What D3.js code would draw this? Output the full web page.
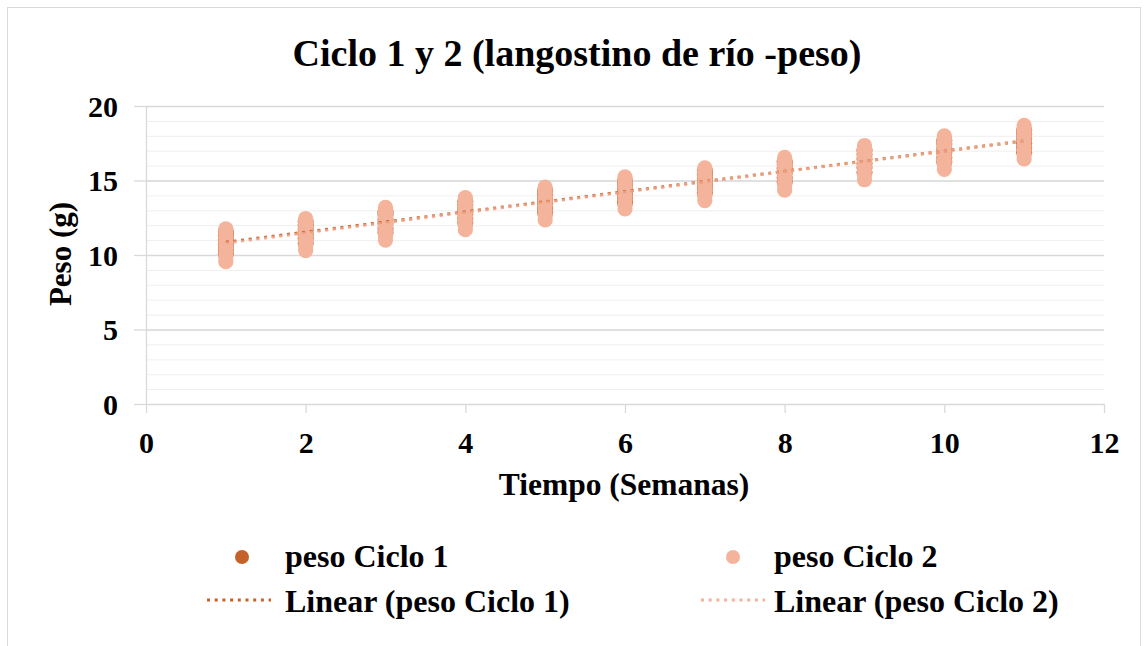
<!DOCTYPE html>
<html>
<head>
<meta charset="utf-8">
<title>Ciclo 1 y 2</title>
<script src="https://cdn.jsdelivr.net/npm/d3@7"></script>
<style>
  body { margin: 0; background: #fff; }
  text { font-family: "Liberation Serif", "Times New Roman", serif; font-weight: bold; fill: #000; }
</style>
</head>
<body>
<script>
// weeks and weight samples (g) per week
const weeks = [1, 2, 3, 4, 5, 6, 7, 8, 9, 10, 11];
const pesoCiclo1 = [
  [10.1, 10.4, 10.7, 11.0, 11.3, 11.55],
  [10.8, 11.1, 11.4, 11.7, 12.0, 12.25],
  [11.5, 11.8, 12.1, 12.4, 12.7, 12.9],
  [12.15, 12.45, 12.75, 13.05, 13.35, 13.6],
  [12.85, 13.15, 13.45, 13.75, 14.05, 14.3],
  [13.5, 13.8, 14.1, 14.4, 14.7, 14.95],
  [14.2, 14.5, 14.8, 15.1, 15.4, 15.65],
  [14.9, 15.2, 15.5, 15.8, 16.1, 16.3],
  [15.55, 15.85, 16.15, 16.45, 16.75, 17.0],
  [16.25, 16.55, 16.85, 17.15, 17.45, 17.7],
  [16.9, 17.2, 17.5, 17.8, 18.1, 18.35]
];
const pesoCiclo2 = [
  [9.55, 9.85, 10.15, 10.45, 10.7, 10.95, 11.15, 11.35, 11.55, 11.75],
  [10.3, 10.6, 10.9, 11.2, 11.45, 11.7, 11.9, 12.1, 12.3, 12.45],
  [11.0, 11.3, 11.6, 11.9, 12.15, 12.4, 12.6, 12.8, 13.0, 13.2],
  [11.7, 12.0, 12.3, 12.6, 12.85, 13.1, 13.3, 13.5, 13.7, 13.85],
  [12.35, 12.65, 12.95, 13.25, 13.5, 13.75, 13.95, 14.15, 14.35, 14.55],
  [13.1, 13.4, 13.7, 13.95, 14.2, 14.45, 14.65, 14.85, 15.05, 15.25],
  [13.65, 13.95, 14.25, 14.55, 14.8, 15.05, 15.25, 15.45, 15.65, 15.85],
  [14.35, 14.65, 14.95, 15.25, 15.5, 15.75, 15.95, 16.15, 16.35, 16.55],
  [15.05, 15.35, 15.65, 15.95, 16.25, 16.5, 16.75, 16.95, 17.15, 17.35],
  [15.75, 16.05, 16.35, 16.65, 16.95, 17.2, 17.45, 17.65, 17.85, 18.0],
  [16.45, 16.75, 17.05, 17.35, 17.65, 17.9, 18.1, 18.3, 18.5, 18.7]
];
const xTicks = [0, 2, 4, 6, 8, 10, 12];
const yTicks = [0, 5, 10, 15, 20];
const legendLabels = ["peso Ciclo 1", "peso Ciclo 2", "Linear (peso Ciclo 1)", "Linear (peso Ciclo 2)"];

const width = 1147, height = 646;
const margin = { left: 146, top: 106, right: 43, bottom: 242 };
const w = width - margin.left - margin.right,
      h = height - margin.top - margin.bottom;

const color1 = "#C5622B", color2 = "#F4B49C";

const svg = d3.select("body").append("svg")
    .attr("width", width)
    .attr("height", height);

svg.append("rect")
    .attr("x", 7.5).attr("y", 7.5)
    .attr("width", 1133).attr("height", 640)
    .attr("fill", "#fff")
    .attr("stroke", "#D9D9D9");

const x = d3.scaleLinear().domain([0, 12]).range([0, w]);
const y = d3.scaleLinear().domain([0, 20]).range([h, 0]);

const g = svg.append("g")
    .attr("transform", "translate(" + margin.left + "," + margin.top + ")");

// minor grid every 1 g
g.append("g")
    .call(d3.axisLeft(y).tickValues(d3.range(1, 20)).tickSize(-w).tickFormat(""))
    .call(s => s.select(".domain").remove())
    .selectAll("line").attr("stroke", "#EFEFEF");

// major grid
g.append("g")
    .call(d3.axisLeft(y).tickValues(yTicks.slice(1)).tickSize(-w).tickFormat(""))
    .call(s => s.select(".domain").remove())
    .selectAll("line").attr("stroke", "#D9D9D9").attr("stroke-width", 1.3);

// y axis
let yAxis = g.append("g")
    .call(d3.axisLeft(y).tickValues(yTicks).tickSize(12).tickSizeOuter(0).tickPadding(16));
yAxis.select(".domain").attr("stroke", "#D9D9D9").attr("stroke-width", 1.3);
yAxis.selectAll("line").attr("stroke", "#D9D9D9").attr("stroke-width", 1.3);
yAxis.selectAll("text")
    .style("font-size", "30px")
    .attr("dy", "0.34em");

// x axis
let xAxis = g.append("g")
    .attr("transform", "translate(0," + h + ")")
    .call(d3.axisBottom(x).tickValues(xTicks).tickSize(9).tickSizeOuter(0).tickPadding(19));
xAxis.select(".domain").attr("stroke", "#D9D9D9").attr("stroke-width", 1.3);
xAxis.selectAll("line").attr("stroke", "#D9D9D9").attr("stroke-width", 1.3);
xAxis.selectAll("text").style("font-size", "30px");

// flatten points
function flat(series) {
    let pts = [];
    series.forEach(function (vals, i) {
        vals.forEach(function (v) { pts.push({ x: weeks[i], y: v }); });
    });
    return pts;
}
const pts1 = flat(pesoCiclo1), pts2 = flat(pesoCiclo2);

g.append("g").selectAll("circle")
    .data(pts1).enter().append("circle")
    .attr("cx", d => x(d.x)).attr("cy", d => y(d.y))
    .attr("r", 8).attr("fill", color1);

g.append("g").selectAll("circle")
    .data(pts2).enter().append("circle")
    .attr("cx", d => x(d.x)).attr("cy", d => y(d.y))
    .attr("r", 7.6).attr("fill", color2);

// linear trendlines (least squares)
function fit(pts) {
    let mx = d3.mean(pts, d => d.x), my = d3.mean(pts, d => d.y);
    let sxy = d3.sum(pts, d => (d.x - mx) * (d.y - my)),
        sxx = d3.sum(pts, d => (d.x - mx) * (d.x - mx));
    let b = sxy / sxx, a = my - b * mx;
    let x0 = d3.min(pts, d => d.x), x1 = d3.max(pts, d => d.x);
    return [{ x: x0, y: a + b * x0 }, { x: x1, y: a + b * x1 }];
}
const line = d3.line().x(d => x(d.x)).y(d => y(d.y));

g.append("path")
    .attr("d", line(fit(pts1)))
    .attr("fill", "none")
    .attr("stroke", color1)
    .attr("stroke-width", 3)
    .attr("stroke-dasharray", "3 4.7");

g.append("path")
    .attr("d", line(fit(pts2)))
    .attr("fill", "none")
    .attr("stroke", color2)
    .attr("stroke-opacity", 0.75)
    .attr("stroke-width", 3)
    .attr("stroke-dasharray", "3 4.7");

// title and axis labels
svg.append("text")
    .attr("x", 577).attr("y", 66)
    .attr("text-anchor", "middle")
    .style("font-size", "38px")
    .text("Ciclo 1 y 2 (langostino de río -peso)");

svg.append("text")
    .attr("x", 624).attr("y", 495)
    .attr("text-anchor", "middle")
    .style("font-size", "31.5px")
    .text("Tiempo (Semanas)");

svg.append("text")
    .attr("transform", "translate(71,254) rotate(-90)")
    .attr("text-anchor", "middle")
    .style("font-size", "31px")
    .text("Peso (g)");

// legend
const legend = svg.append("g");
const legX = [207, 701], markX = [242, 733], textX = [285, 774];
[0, 1].forEach(function (i) {
    let c = i === 0 ? color1 : color2;
    legend.append("circle")
        .attr("cx", markX[i]).attr("cy", 557).attr("r", 7)
        .attr("fill", c);
    legend.append("text")
        .attr("x", textX[i]).attr("y", 567)
        .style("font-size", "32px")
        .text(legendLabels[i]);
    legend.append("line")
        .attr("x1", legX[i]).attr("x2", legX[i] + 64)
        .attr("y1", 600).attr("y2", 600)
        .attr("stroke", c)
        .attr("stroke-width", 3)
        .attr("stroke-dasharray", "3 4.7");
    legend.append("text")
        .attr("x", textX[i]).attr("y", 612)
        .style("font-size", "32px")
        .text(legendLabels[i + 2]);
});
</script>
</body>
</html>
